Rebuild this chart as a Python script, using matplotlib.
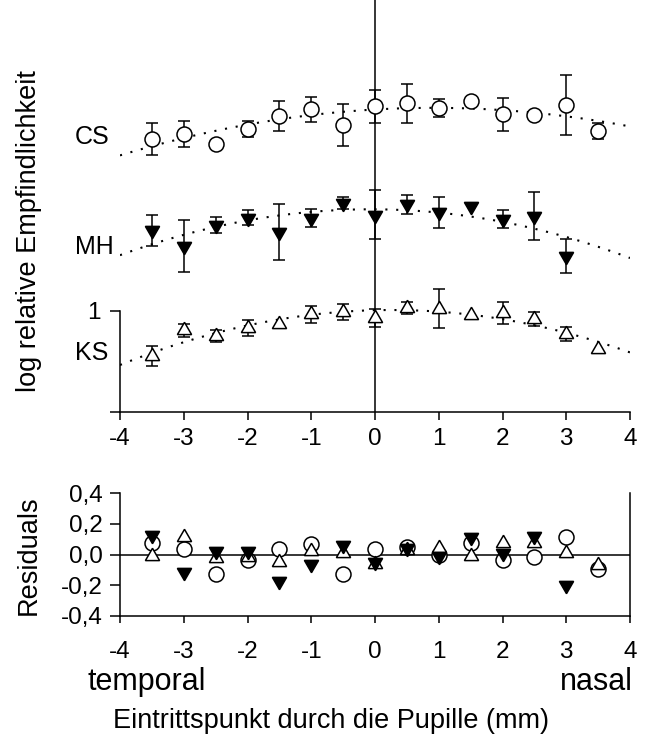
import numpy as np
import matplotlib
matplotlib.use("Agg")
import matplotlib.pyplot as plt

plt.rcParams['font.family'] = ['Liberation Sans', 'DejaVu Sans']
plt.rcParams['axes.unicode_minus'] = False

# Eintrittspunkt (mm)
x_cs = [-3.5, -3, -2.5, -2, -1.5, -1, -0.5, 0, 0.5, 1, 1.5, 2, 2.5, 3, 3.5]
x_mh = [-3.5, -3, -2.5, -2, -1.5, -1, -0.5, 0, 0.5, 1, 1.5, 2, 2.5, 3]
x_ks = [-3.5, -3, -2.5, -2, -1.5, -1, -0.5, 0, 0.5, 1, 1.5, 2, 2.5, 3, 3.5]

# log relative Empfindlichkeit (Kurven vertikal versetzt)
cs = [2.696, 2.746, 2.649, 2.799, 2.927, 2.992, 2.837, 3.020, 3.050, 3.008, 3.074, 2.942, 2.939, 3.033, 2.779]
cs_err = [0.157, 0.130, 0, 0.078, 0.150, 0.125, 0.205, 0.160, 0.193, 0.089, 0, 0.165, 0, 0.299, 0.081]
mh = [1.794, 1.642, 1.847, 1.919, 1.777, 1.917, 2.064, 1.950, 2.050, 1.972, 2.038, 1.903, 1.936, 1.540]
mh_err = [0.152, 0.257, 0.076, 0.076, 0.277, 0.087, 0.056, 0.243, 0.094, 0.155, 0, 0.089, 0.241, 0.172]
ks = [0.551, 0.802, 0.744, 0.827, 0.863, 0.964, 0.983, 0.927, 1.025, 1.018, 0.955, 0.977, 0.917, 0.771, 0.619]
ks_err = [0.097, 0.061, 0.059, 0.076, 0, 0.084, 0.078, 0.087, 0.063, 0.195, 0, 0.107, 0.071, 0.069, 0]

# Residuen der quadratischen Anpassung
res_cs = [0.074, 0.037, -0.128, -0.039, 0.037, 0.067, -0.128, 0.033, 0.046, -0.002, 0.074, -0.035, -0.017, 0.113, -0.093]
res_mh = [0.128, -0.115, 0.020, 0.020, -0.170, -0.063, 0.059, -0.046, 0.041, -0.013, 0.113, 0.013, 0.122, -0.198]
res_ks = [-0.011, 0.117, -0.026, -0.017, -0.052, 0.024, 0.009, -0.061, 0.030, 0.041, -0.009, 0.074, 0.074, 0.009, -0.067]

W, H = 661, 735
LW = 1.1
TRI_DOWN = (3, 0, 180)
TRI_UP = (3, 0, 0)

series = [
    (x_cs, cs, cs_err, res_cs, 'o', 'white', 10.8),
    (x_mh, mh, mh_err, res_mh, TRI_DOWN, 'black', 11.8),
    (x_ks, ks, ks_err, res_ks, TRI_UP, 'white', 11.8),
]


def fx(px):
    return px / W


def fy(py):
    return 1 - py / H


fig = plt.figure(figsize=(W / 100, H / 100), dpi=100)

# oberes Diagramm
ax = fig.add_axes([fx(120), fy(411.5), fx(510), 411.5 / H])
ax.set_xlim(-4, 4)
ax.set_ylim(0, 411.5 / 101)
ax.axvline(0, color='black', lw=LW, zorder=1)

xx = np.linspace(-4, 4, 200)
for x, y, err, res, mk, fc, ms in series:
    x = np.array(x)
    y = np.array(y)
    err = np.array(err)
    coef = np.polyfit(x, y, 2)
    ax.plot(xx, np.polyval(coef, xx), color='black', lw=1.5, ls=(0, (1, 4.2)), zorder=2)
    m = err > 0
    ax.errorbar(x[m], y[m], yerr=err[m], fmt='none', ecolor='black', elinewidth=LW,
                capsize=4.6, capthick=LW, zorder=3)
    ax.plot(x, y, ls='none', marker=mk, ms=ms, mfc=fc, mec='black', mew=LW, zorder=4)

for s in ['top', 'right']:
    ax.spines[s].set_visible(False)
ax.spines['left'].set_bounds(0, 1)
for s in ['left', 'bottom']:
    ax.spines[s].set_linewidth(LW)
ax.set_yticks([0, 1])
ax.set_yticklabels(['', '1'])
ax.set_xticks(range(-4, 5))
ax.tick_params(axis='y', length=7.2, width=LW, pad=7, labelsize=17.5)
ax.tick_params(axis='x', length=5.5, width=LW, pad=6.5, labelsize=17.5)

fig.text(fx(92), fy(137), 'CS', fontsize=18, ha='center', va='center')
fig.text(fx(94), fy(247), 'MH', fontsize=18, ha='center', va='center')
fig.text(fx(92), fy(353), 'KS', fontsize=18, ha='center', va='center')
fig.text(fx(29), fy(231), 'log relative Empfindlichkeit', fontsize=19.5, rotation=90,
         ha='center', va='center')

# Residuen
ax2 = fig.add_axes([fx(120), fy(615.7), fx(510), 122.4 / H])
ax2.set_xlim(-4, 4)
ax2.set_ylim(-0.4, 0.4)
ax2.axhline(0, color='black', lw=LW, zorder=1)
for x, y, err, res, mk, fc, ms in series:
    ax2.plot(x, res, ls='none', marker=mk, ms=ms, mfc=fc, mec='black', mew=LW,
             zorder=3 if fc == 'black' else 2)
ax2.spines['top'].set_visible(False)
for s in ['left', 'bottom', 'right']:
    ax2.spines[s].set_linewidth(LW)
ax2.set_yticks([-0.4, -0.2, 0, 0.2, 0.4])
ax2.set_yticklabels(['-0,4', '-0,2', '0,0', '0,2', '0,4'])
ax2.set_xticks(range(-4, 5))
ax2.tick_params(axis='y', length=7.2, width=LW, pad=5, labelsize=17.5)
ax2.tick_params(axis='x', length=5, width=LW, pad=13, labelsize=17.5)

fig.text(fx(29), fy(555), 'Residuals', fontsize=19.5, rotation=90, ha='center', va='center')
fig.text(fx(147), fy(682), 'temporal', fontsize=22, ha='center', va='center')
fig.text(fx(633), fy(682), 'nasal', fontsize=22, ha='right', va='center')
fig.text(fx(331), fy(721), 'Eintrittspunkt durch die Pupille (mm)', fontsize=19.5,
         ha='center', va='center')

fig.savefig('out.png', dpi=100)
